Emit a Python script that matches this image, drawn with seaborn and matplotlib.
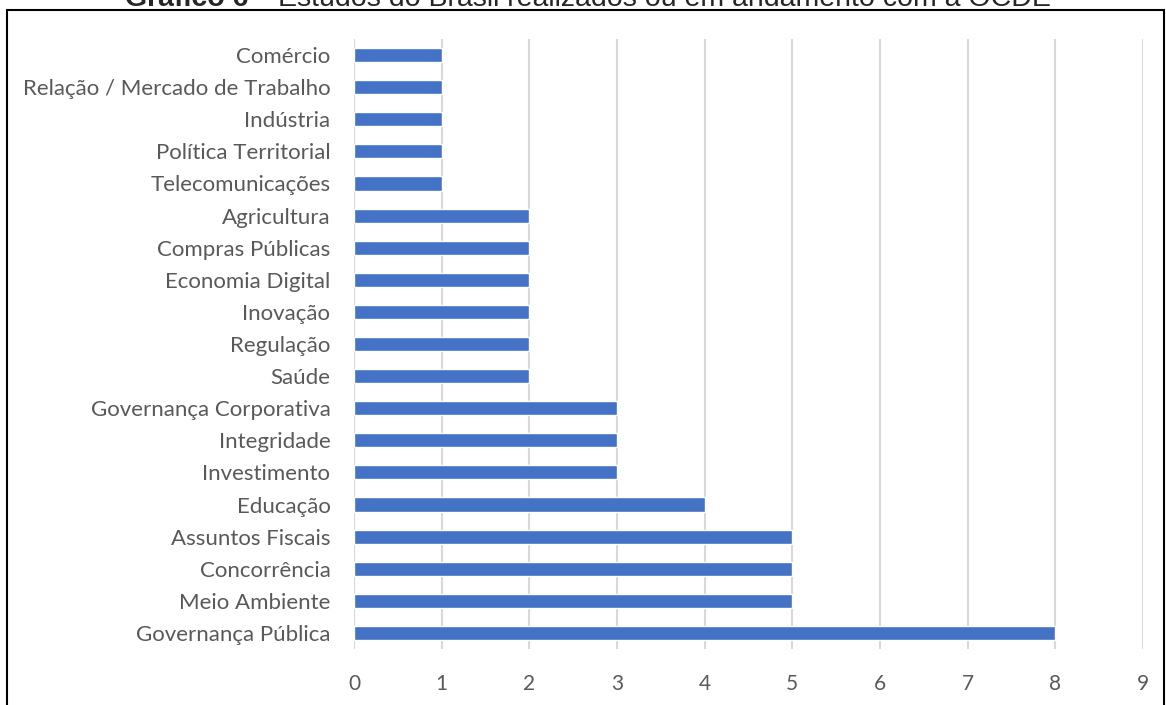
import matplotlib
matplotlib.use("Agg")
import matplotlib.pyplot as plt
import matplotlib.patches as patches
import seaborn as sns
import pandas as pd

# Dados do gráfico (de cima para baixo)
temas = ['Comércio', 'Relação / Mercado de Trabalho', 'Indústria', 'Política Territorial',
         'Telecomunicações', 'Agricultura', 'Compras Públicas', 'Economia Digital',
         'Inovação', 'Regulação', 'Saúde', 'Governança Corporativa', 'Integridade',
         'Investimento', 'Educação', 'Assuntos Fiscais', 'Concorrência',
         'Meio Ambiente', 'Governança Pública']
estudos = [1, 1, 1, 1, 1, 2, 2, 2, 2, 2, 2, 3, 3, 3, 4, 5, 5, 5, 8]
xticks = list(range(0, 10))

df = pd.DataFrame({'tema': temas, 'estudos': estudos})

sns.set_style('white')
plt.rcParams['font.family'] = ['Lato', 'DejaVu Sans']

fig = plt.figure(figsize=(11.66, 7.05), dpi=100)
ax = fig.add_axes([0.3036, 0.0794, 0.6767, 0.8653])

sns.barplot(data=df, y='tema', x='estudos', color='#4472C4', saturation=1,
            width=0.44, orient='h', ax=ax)

ax.set_xlim(0, 9)
ax.set_xticks(xticks)
ax.set_xlabel('')
ax.set_ylabel('')
ax.grid(axis='x', color='#d9d9d9', linewidth=1.5)
ax.set_axisbelow(True)
for s in ax.spines.values():
    s.set_visible(False)
ax.tick_params(axis='both', length=0, colors='#595959')
ax.tick_params(axis='x', pad=18, labelsize=15)
ax.tick_params(axis='y', pad=17, labelsize=16)

# moldura
fig.patches.append(patches.Rectangle((7 / 1166, -0.05), 1157 / 1166, 1.05 - 10 / 705,
                                     transform=fig.transFigure, fill=False,
                                     edgecolor='black', linewidth=1.5))

# título (cortado no topo, como no original)
fig.text(272 / 1166, 1 - 6 / 705, 'Gráfico 6 –', ha='right', va='baseline',
         fontsize=20.5, fontweight='bold', family='Liberation Sans')
fig.text(278 / 1166, 1 - 6 / 705, 'Estudos do Brasil realizados ou em andamento com a OCDE',
         ha='left', va='baseline', fontsize=20.5, family='Liberation Sans')

fig.savefig('out.png', dpi=100)
